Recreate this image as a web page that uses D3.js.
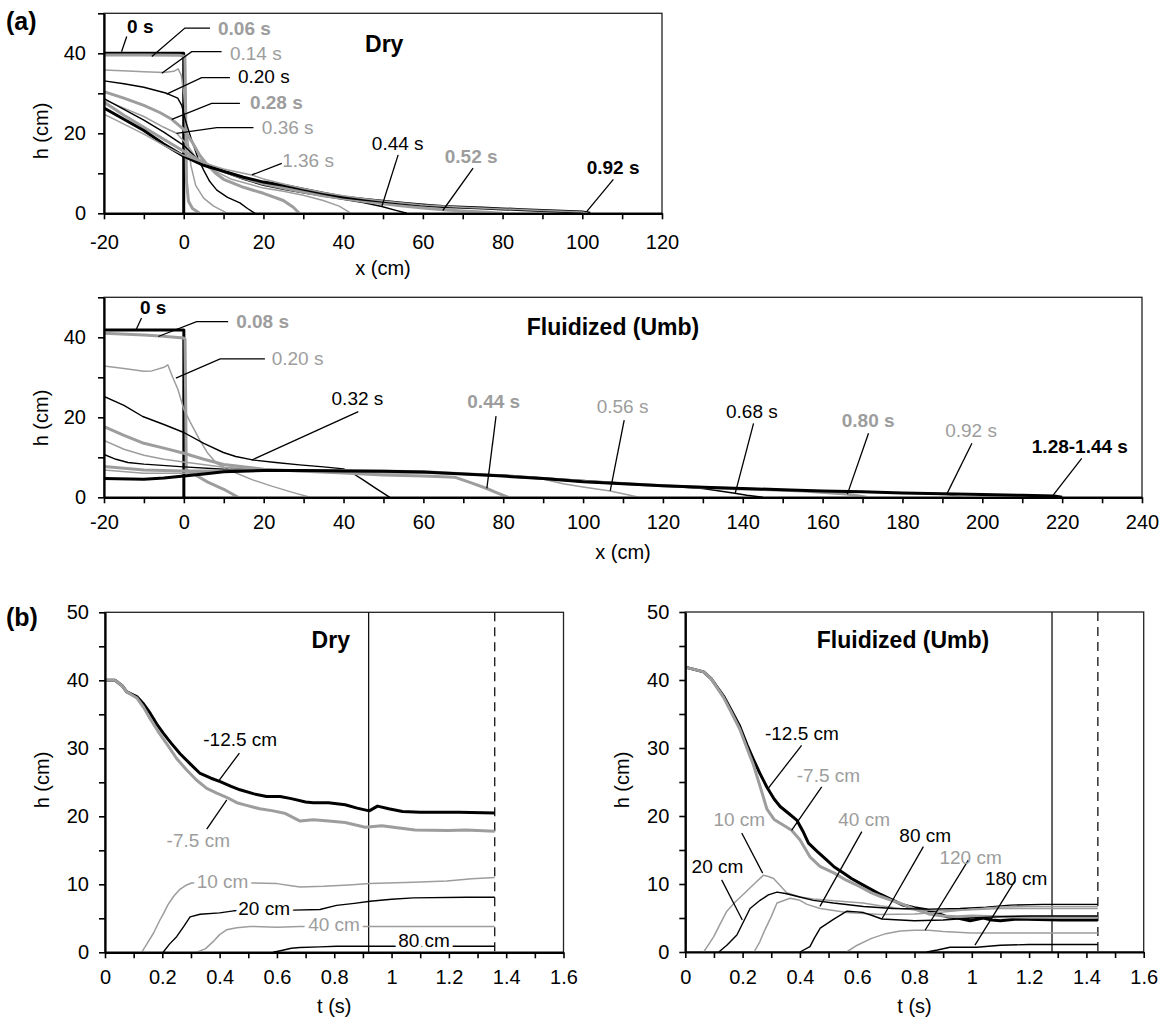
<!DOCTYPE html>
<html>
<head>
<meta charset="utf-8">
<script src="https://cdn.jsdelivr.net/npm/d3@7"></script>
<style>
  body { margin: 0; background: #fff; }
  svg { font-family: "Liberation Sans", Arial, sans-serif; }
</style>
</head>
<body>
<svg id="fig" width="1165" height="1020"></svg>
<script>
// ---------- data ----------
// (a) dry: h(x) profiles, x in cm, h in cm
const dryTimes = ["0 s","0.06 s","0.14 s","0.20 s","0.28 s","0.36 s","0.44 s","0.52 s","0.92 s","1.36 s"];
const dryProfiles = [
  [[-20,40],[0,40],[0,0]],
  [[-20,39.6],[-10,39.6],[-1,39.5],[0.3,39.2],[0.5,25],[0.7,8],[1.2,3],[2.2,1.2],[4,0]],
  [[-20,35.8],[-14,35.6],[-10,35.4],[-5,35.2],[-2.5,35.5],[-1.4,36.1],[-0.6,34.5],[0,30],[0.8,20],[1.8,12],[3,7],[5,3.8],[7.5,1.8],[11,0]],
  [[-20,33.1],[-15,32.4],[-10,31.5],[-4.3,30],[-1.5,28.8],[-0.5,27],[0.5,23],[2,18.3],[3.5,14],[5,10.8],[6.5,8],[8.3,5.8],[11,4],[14.1,2.6],[16,1.2],[17.9,0]],
  [[-20,30.4],[-15,28.8],[-10,27],[-6,25.2],[-3,23.5],[0,21],[2,18],[4,14.5],[6,12],[8,10],[10,8.5],[15,6.5],[20,5],[25,3.2],[27.5,1.5],[29,0]],
  [[-20,28.4],[-15,26.3],[-10,24.2],[-5,21.5],[-1.8,20],[1,17],[3,14],[6,11.5],[9,10],[12,8.5],[20,6.3],[25,5.5],[30,4.5],[35,3.2],[39,1.8],[42,0]],
  [[-20,28.7],[-15,26],[-10,23.3],[-5,20.3],[0,17],[3,14],[6,12],[10,10.3],[15,8.5],[20,7],[25,6],[30,5.1],[35,4.3],[40,3.5],[45,2.7],[49.7,1.7],[53,0.8],[56,0]],
  [[-20,27.8],[-15,24.5],[-10,21.5],[-5,18.5],[0,15.5],[5,12.6],[10,10.5],[15,8.8],[20,7.4],[25,6.3],[30,5.3],[35,4.4],[40,3.7],[45,3],[50,2.4],[55,1.8],[60,1.3],[65,0.9],[70,0.6],[75,0.3],[80,0]],
  [[-20,26.3],[-15,23.5],[-10,20.7],[-5,17.3],[0,14.3],[5,12],[10,10.5],[15,9],[20,7.8],[25,7],[30,6],[35,5],[40,4.1],[45,3.5],[50,3],[55,2.5],[60,2.1],[65,1.7],[70,1.5],[75,1.3],[80,1.1],[85,0.9],[90,0.7],[95,0.5],[100,0.3],[102,0]],
  [[-20,24.8],[-15,22.3],[-10,19.8],[-5,17],[0,14.5],[5,12.6],[10,11.1],[17,9.6],[20,8.6],[25,7.3],[30,6.2],[35,5.2],[40,4.4],[45,3.7],[50,3.1],[55,2.6],[60,2.1],[70,1.5],[80,1.1],[90,0.7],[100,0.3],[101.5,0]]
];

// (a) fluidized: h(x) profiles
const fluidTimes = ["0 s","0.08 s","0.20 s","0.32 s","0.44 s","0.56 s","0.68 s","0.80 s","0.92 s","1.28-1.44 s"];
const fluidProfiles = [
  [[-20,41.8],[0,41.8],[0,0]],
  [[-20,41],[-10,40.6],[-6,40.3],[0,39.8],[0.3,39.5],[0.5,20],[0.6,6.8],[3,5.5],[6,3.8],[10,2],[13.6,0]],
  [[-20,32.8],[-15,32.2],[-10,31.5],[-8,31.6],[-5,32.5],[-4,33.1],[-2.8,30],[-1.5,27],[0,22],[1.5,19],[4,14.3],[6,11],[8.2,8.5],[12,6.5],[17.4,4.3],[22,2.8],[27,1.3],[31.6,0]],
  [[-20,25.2],[-15,23],[-10.3,20.2],[-5,18.2],[0,16.2],[5,13.5],[9.9,11.2],[13,10.2],[17.5,9.3],[23,8.7],[29,8.1],[35,7.6],[40,7.1],[42,6.2],[45,4.3],[48,2.3],[51.6,0]],
  [[-20,17.7],[-15,15.5],[-10,13.5],[-5,12.3],[0,11],[5,9.5],[10,8.2],[20,7],[30,6.5],[40,6.1],[50,5.6],[60,5.3],[68,5],[72,3.6],[75.9,2.2],[78,1.3],[81.3,0]],
  [[-20,14.2],[-15,12],[-10,10.5],[-5,9.5],[0,8.8],[10,7.5],[20,6.8],[30,6.4],[40,6.2],[60,6],[80,5.6],[88,5],[95,3.4],[100,2.6],[106.8,1.6],[110,0.9],[114,0]],
  [[-20,10.7],[-17,9.5],[-14,8.7],[-10,8.3],[0,7.6],[10,7],[20,6.8],[40,6.6],[60,6.3],[80,5.5],[100,4.2],[120,2.9],[130,2.2],[138,1],[141,0.5],[145,0]],
  [[-20,7.7],[-10,6.8],[0,6.6],[10,6.6],[20,6.7],[40,6.7],[60,6.4],[80,5.4],[100,4],[120,2.9],[140,2.1],[155,1.6],[166,0.8],[171,0]],
  [[-20,6.8],[-10,6],[0,6],[10,6.4],[20,6.6],[40,6.6],[60,6.3],[80,5.3],[100,3.9],[120,2.8],[140,2.1],[160,1.5],[180,1.1],[191,0.7],[195,0]],
  [[-20,4.7],[-10,4.5],[-5,4.8],[0,5.3],[5,5.8],[10,6.4],[20,6.7],[30,6.7],[40,6.6],[50,6.5],[60,6.3],[70,5.8],[80,5.3],[90,4.7],[100,3.9],[110,3.4],[120,2.9],[130,2.5],[140,2.2],[150,1.9],[160,1.6],[170,1.4],[180,1.1],[190,0.9],[200,0.7],[210,0.5],[218,0.3],[220,0]]
];

// (b) dry: h(t) at gauges, t in s
const dryGauges = ["-12.5 cm","-7.5 cm","10 cm","20 cm","40 cm","80 cm"];
const dryGaugeSeries = [
  [[0,40],[0.035,40],[0.06,39.2],[0.076,38.3],[0.111,37.6],[0.135,36.5],[0.157,35.2],[0.18,33.6],[0.204,32.2],[0.23,30.8],[0.262,29.2],[0.3,27.6],[0.332,26.3],[0.37,25.6],[0.402,25.1],[0.44,24.4],[0.471,23.9],[0.52,23.3],[0.564,22.9],[0.611,22.9],[0.65,22.6],[0.7,22.1],[0.727,22],[0.78,22],[0.838,21.7],[0.88,21.2],[0.922,20.8],[0.951,21.5],[0.99,21.1],[1.038,20.7],[1.1,20.6],[1.236,20.6],[1.36,20.5]],
  [[0,40],[0.035,40],[0.06,39.2],[0.076,38.3],[0.111,37.4],[0.135,36],[0.157,34.4],[0.185,32.5],[0.215,30.7],[0.25,28.5],[0.285,26.8],[0.32,25.3],[0.355,24.1],[0.39,23.4],[0.424,22.8],[0.46,22],[0.494,21.6],[0.54,21.1],[0.587,20.8],[0.63,20.4],[0.681,19.3],[0.727,19.5],[0.78,19.3],[0.838,19.1],[0.908,18.4],[0.966,18.6],[1.02,18.3],[1.082,18],[1.198,17.9],[1.26,18],[1.36,17.8]],
  [[0.128,0],[0.15,1.5],[0.169,2.8],[0.19,4.6],[0.204,5.7],[0.22,7],[0.239,8.2],[0.26,9.2],[0.285,9.9],[0.302,10.2],[0.4,10.2],[0.506,10.2],[0.6,10.1],[0.65,9.8],[0.681,9.6],[0.762,9.7],[0.85,9.9],[0.925,10.1],[1.076,10.3],[1.193,10.5],[1.28,10.8],[1.36,11]],
  [[0.203,0],[0.225,1.2],[0.25,2.3],[0.275,3.8],[0.297,5.2],[0.332,5.6],[0.4,5.8],[0.449,6.1],[0.55,6.2],[0.657,6.2],[0.75,6.3],[0.808,6.9],[0.87,7.2],[0.925,7.5],[1,7.8],[1.076,8],[1.262,8.1],[1.36,8.1]],
  [[0.319,0],[0.35,0.5],[0.378,1.6],[0.4,2.6],[0.424,3.3],[0.46,3.6],[0.506,3.8],[0.6,3.7],[0.68,3.8],[0.908,3.8],[1.36,3.8]],
  [[0.587,0],[0.62,0.3],[0.65,0.6],[0.68,0.7],[0.75,0.8],[0.808,0.9],[1,0.9],[1.36,0.9]]
];

// (b) fluidized: h(t) at gauges
const fluidGauges = ["-12.5 cm","-7.5 cm","10 cm","20 cm","40 cm","80 cm","120 cm","180 cm"];
const fluidGaugeSeries = [
  [[0,41.9],[0.064,41.2],[0.09,40.2],[0.134,37.6],[0.16,35.6],[0.19,33.2],[0.215,30.5],[0.238,28.3],[0.26,26.3],[0.284,24.3],[0.31,22.5],[0.331,21.4],[0.36,20.4],[0.389,19.4],[0.41,17.8],[0.43,16],[0.46,14.8],[0.494,13.5],[0.52,12.5],[0.552,11.6],[0.58,10.8],[0.61,10.1],[0.64,9.4],[0.68,8.5],[0.72,7.7],[0.76,6.9],[0.8,6.5],[0.842,6.2],[0.88,5.7],[0.912,5.2],[0.95,5],[0.994,4.6],[1.04,5],[1.07,4.7],[1.1,4.6],[1.15,4.8],[1.193,4.8],[1.309,4.7],[1.44,4.7]],
  [[0,41.9],[0.064,41.2],[0.09,40.2],[0.134,37.4],[0.16,35.3],[0.19,32.8],[0.215,30],[0.238,27.5],[0.26,24.5],[0.285,21],[0.31,19.5],[0.34,18.7],[0.371,17.9],[0.4,16.5],[0.435,14],[0.47,12.6],[0.52,11.6],[0.56,10.6],[0.61,9.6],[0.65,8.7],[0.68,8.2],[0.72,7.6],[0.76,7],[0.8,6.3],[0.85,5.6],[0.9,5.3],[0.95,5.2],[1,5.3],[1.1,5.2],[1.2,5.1],[1.44,5.1]],
  [[0.064,0],[0.08,1],[0.1,2.3],[0.12,4],[0.145,6],[0.175,7.4],[0.203,8.5],[0.24,10],[0.273,11.3],[0.29,11.1],[0.308,10.8],[0.33,9.8],[0.354,8.7],[0.4,8.1],[0.447,7.8],[0.5,7.6],[0.563,7.4],[0.62,7.2],[0.68,6.8],[0.75,6.4],[0.8,6.2],[0.9,6.1],[1,6.2],[1.1,6.4],[1.2,6.4],[1.44,6.4]],
  [[0.117,0],[0.145,1],[0.18,2.5],[0.2,4.2],[0.226,6.4],[0.261,7.6],[0.29,8.4],[0.32,8.8],[0.35,8.6],[0.389,8.2],[0.447,7.6],[0.517,7.2],[0.622,6.7],[0.726,6.4],[0.85,6.3],[0.959,6.4],[1.05,6.6],[1.134,6.9],[1.25,7],[1.44,7]],
  [[0.24,0],[0.26,1.5],[0.275,3],[0.3,5.2],[0.32,7.2],[0.366,7.9],[0.4,7.6],[0.425,7],[0.471,6.4],[0.564,5.8],[0.68,5.5],[0.8,5.6],[0.9,5.9],[1,6.3],[1.1,6.6],[1.2,6.7],[1.44,6.7]],
  [[0.4,0],[0.435,0.8],[0.45,2],[0.471,3.5],[0.517,4.8],[0.564,6],[0.6,5.9],[0.622,5.8],[0.65,5.4],[0.686,4.85],[0.75,4.7],[0.8,4.6],[0.9,4.7],[1,5],[1.1,5.2],[1.2,5.3],[1.44,5.3]],
  [[0.563,0],[0.6,1],[0.65,2],[0.7,2.7],[0.75,3.1],[0.8,3.2],[0.85,3.2],[0.9,3],[1,2.8],[1.2,2.8],[1.44,2.8]],
  [[0.843,0],[0.88,0.3],[0.924,0.7],[1.017,0.7],[1.1,1],[1.2,1.1],[1.44,1.1]]
];

// marker lines in (b): solid = end of flow, dashed = end of record
const dryMarkers = [0.92, 1.36];
const fluidMarkers = [1.28, 1.44];

// ticks
const xTicksDry = [-20,-10,0,10,20,30,40,50,60,70,80,90,100,110,120];
const xTicksFluid = [-20,-10,0,10,20,30,40,50,60,70,80,90,100,110,120,130,140,150,160,170,180,190,200,210,220,230,240];
const hTicksA = [0,10,20,30,40,50];
const hTicksB = [0,5,10,15,20,25,30,35,40,45,50];
const tTicks = [0,0.1,0.2,0.3,0.4,0.5,0.6,0.7,0.8,0.9,1,1.1,1.2,1.3,1.4,1.5,1.6];

// ---------- styles & annotation placement (data units) ----------
const BLACK = "#000", GRAY = "#9d9d9d";
const K3 = {c: BLACK, w: 3}, G3 = {c: GRAY, w: 3}, K1 = {c: BLACK, w: 1.4}, G1 = {c: GRAY, w: 1.5};

const dryStyles = [K3, G3, G1, K1, G3, G1, K1, G3, K3, G1];
const dryLabels = [
  {at: [-14.2,45.1], lead: [[-14.3,44.2],[-15.6,40.4]]},
  {at: [8.6,44.6], lead: [[6.6,46.3],[0.3,46.3],[-8,39.2]]},
  {at: [11.6,38.3], lead: [[9.5,40.4],[2,40.4],[-5.5,35]]},
  {at: [13.6,32.6], lead: [[11.6,33.9],[4.5,33.9],[-4.3,29.8]]},
  {at: [16.6,26.1], lead: [[14.1,27.5],[7,27.5],[-3,23.5]]},
  {at: [19.6,19.8], lead: [[17.5,21.4],[8.3,21.4],[-1.8,20]]},
  {at: [47.2,15.8], lead: [[53.8,14.6],[49.7,1.7]]},
  {at: [65.5,12.6], lead: [[72.6,11.3],[65,0.7]]},
  {at: [101.1,9.8], lead: [[107.8,8.5],[101.1,0.4]]},
  {at: [24.7,11.6], lead: [[24.6,12.5],[17.1,9.6]]}
];

const fluidStyles = [K3, G3, G1, K1, G3, G1, K1, G3, G1, K3];
const fluidLabels = [
  {at: [-11,45.8], lead: [[-10.6,44.8],[-12,41.8]]},
  {at: [13.1,42.3], lead: [[11.1,43.9],[3.2,43.9],[-6.4,40.2]]},
  {at: [22,33.1], lead: [[20.3,34.6],[9.1,34.6],[-2,29.8]]},
  {at: [37,23.1], lead: [[43.7,21.4],[17,9.3]]},
  {at: [71,22.3], lead: [[78.2,20.3],[75.9,2.25]]},
  {at: [103.4,21], lead: [[110.3,19.3],[106.8,1.6]]},
  {at: [135.8,19.8], lead: [[142.7,18.5],[138.1,1]]},
  {at: [164.8,17.5], lead: [[171.5,16],[166.2,0.8]]},
  {at: [190.7,15], lead: [[197.4,13.5],[191.1,0.8]]},
  {at: [212.4,11.2], lead: [[224.9,9.75],[217.8,0.6]]}
];

const dryGaugeStyles = [K3, G3, G1, K1, G1, K1];
const dryGaugeLabels = [
  {at: [0.343,30.3], lead: [[0.469,29.3],[0.395,25.1]]},
  {at: [0.215,15.5], lead: [[0.355,18.1],[0.425,22.4]]},
  {at: [0.32,9.4], halo: true},
  {at: [0.465,5.5], halo: true},
  {at: [0.709,3.2], halo: true},
  {at: [1.023,0.8], halo: true}
];

const fluidGaugeStyles = [K3, G3, G1, K1, G1, K1, G1, K1];
const fluidGaugeLabels = [
  {at: [0.278,31.2], lead: [[0.406,30.4],[0.29,24.1]]},
  {at: [0.389,25], lead: [[0.476,24.3],[0.371,17.9]]},
  {at: [0.098,18.5], lead: [[0.197,17.5],[0.27,11.6]]},
  {at: [0.022,11.6], lead: [[0.127,10.6],[0.199,4.7]]},
  {at: [0.534,18.5], lead: [[0.616,17.7],[0.47,6.7]]},
  {at: [0.747,16.2], lead: [[0.831,15.5],[0.686,4.85]]},
  {at: [0.887,13], lead: [[0.988,13.5],[0.837,3.2]]},
  {at: [1.046,9.9], lead: [[1.151,10.5],[1.011,1]]}
];

const boldTimes = ["0 s","0.06 s","0.28 s","0.52 s","0.92 s"];
const boldTimesFluid = ["0 s","0.08 s","0.44 s","0.80 s","1.28-1.44 s"];

// ---------- drawing ----------
const FONT = '"Liberation Sans", Arial, sans-serif';
const svg = d3.select("#fig");

function drawPanel(cfg) {
  const x = d3.scaleLinear().domain(cfg.xDomain).range([cfg.left, cfg.right]);
  const y = d3.scaleLinear().domain([0, 50]).range([cfg.bottom, cfg.top]);
  const g = svg.append("g");

  svg.append("clipPath").attr("id", "clip-" + cfg.id)
    .append("rect")
    .attr("x", cfg.left).attr("y", cfg.top - 2)
    .attr("width", cfg.right - cfg.left).attr("height", cfg.bottom - cfg.top + 3);

  // frame
  g.append("rect")
    .attr("x", cfg.left).attr("y", cfg.top)
    .attr("width", cfg.right - cfg.left).attr("height", cfg.bottom - cfg.top)
    .attr("fill", "none").attr("stroke", "#222").attr("stroke-width", 1.3);

  // vertical markers
  (cfg.markers || []).forEach((m, i) => {
    g.append("line")
      .attr("x1", x(m)).attr("x2", x(m)).attr("y1", cfg.top).attr("y2", cfg.bottom)
      .attr("stroke", "#111").attr("stroke-width", 1.3)
      .attr("stroke-dasharray", i === 1 ? "9,6" : null);
  });

  // curves
  const line = d3.line().x(d => x(d[0])).y(d => y(d[1]));
  const curves = g.append("g").attr("clip-path", `url(#clip-${cfg.id})`);
  cfg.series.forEach((s, i) => {
    curves.append("path")
      .attr("d", line(s))
      .attr("fill", "none")
      .attr("stroke", cfg.styles[i].c)
      .attr("stroke-width", cfg.styles[i].w)
      .attr("stroke-linejoin", "round");
  });

  // axes
  const xa = g.append("g")
    .attr("transform", `translate(0,${cfg.bottom})`)
    .call(d3.axisBottom(x).tickValues(cfg.xTicks).tickFormat(cfg.xFmt)
      .tickSize(6).tickSizeOuter(0).tickPadding(cfg.xPad));
  const ya = g.append("g")
    .attr("transform", `translate(${cfg.left},0)`)
    .call(d3.axisLeft(y).tickValues(cfg.yTicks).tickFormat(cfg.yFmt)
      .tickSize(6).tickSizeOuter(0).tickPadding(cfg.yPad));
  [xa, ya].forEach(a => {
    a.attr("font-size", 20).attr("font-family", FONT);
    a.select(".domain").attr("stroke", "#000").attr("stroke-width", 2.2);
    a.selectAll(".tick line").attr("stroke", "#000").attr("stroke-width", 1.6);
    a.selectAll(".tick text").attr("fill", "#000");
  });

  // annotation labels
  cfg.labels.forEach((l, i) => {
    const col = cfg.styles[i].c;
    if (l.lead) {
      g.append("path")
        .attr("d", d3.line()(l.lead.map(p => [x(p[0]), y(p[1])])))
        .attr("fill", "none").attr("stroke", "#000").attr("stroke-width", 1.3);
    }
    const t = g.append("text")
      .attr("x", x(l.at[0])).attr("y", y(l.at[1]))
      .attr("font-size", 19)
      .attr("font-weight", cfg.bold.includes(cfg.names[i]) ? "bold" : "normal")
      .attr("fill", col)
      .text(cfg.names[i]);
    if (l.halo) {
      t.attr("stroke", "#fff").attr("stroke-width", 8).attr("paint-order", "stroke");
    }
  });

  // panel title
  g.append("text")
    .attr("x", x(cfg.title.at[0])).attr("y", y(cfg.title.at[1]))
    .attr("font-size", 23).attr("font-weight", "bold")
    .text(cfg.title.text);

  // axis titles
  g.append("text")
    .attr("x", (cfg.left + cfg.right) / 2).attr("y", cfg.xTitleY)
    .attr("text-anchor", "middle").attr("font-size", 20)
    .text(cfg.xTitle);
  g.append("text")
    .attr("transform", `translate(${cfg.left - 56},${cfg.yTitleY}) rotate(-90)`)
    .attr("text-anchor", "middle").attr("font-size", 20)
    .text("h (cm)");
}

const fmtA = d => (d % 20 === 0 ? d : "");
const fmtHA = d => (d % 20 === 0 ? d : "");
const fmtHB = d => (d % 10 === 0 ? d : "");
const fmtT = d => (Math.round(d * 10) % 2 === 0 ? String(+d.toFixed(1)) : "");

drawPanel({
  id: "a1", left: 104, right: 662, top: 13.3, bottom: 213.3,
  xDomain: [-20, 120], xTicks: xTicksDry, xFmt: fmtA, xPad: 16,
  yTicks: hTicksA, yFmt: fmtHA, yPad: 12,
  series: dryProfiles, styles: dryStyles, names: dryTimes, bold: boldTimes, labels: dryLabels,
  title: {text: "Dry", at: [45.5, 40.3]},
  xTitle: "x (cm)", xTitleY: 275, yTitleY: 131
});

drawPanel({
  id: "a2", left: 104, right: 1142, top: 297.3, bottom: 497.3,
  xDomain: [-20, 240], xTicks: xTicksFluid, xFmt: fmtA, xPad: 12,
  yTicks: hTicksA, yFmt: fmtHA, yPad: 12,
  series: fluidProfiles, styles: fluidStyles, names: fluidTimes, bold: boldTimesFluid, labels: fluidLabels,
  title: {text: "Fluidized (Umb)", at: [85.9, 40.6]},
  xTitle: "x (cm)", xTitleY: 559, yTitleY: 418
});

drawPanel({
  id: "b1", left: 105, right: 563.5, top: 612.3, bottom: 952.3,
  xDomain: [0, 1.6], xTicks: tTicks, xFmt: fmtT, xPad: 12,
  yTicks: hTicksB, yFmt: fmtHB, yPad: 10,
  series: dryGaugeSeries, styles: dryGaugeStyles, names: dryGauges, bold: [], labels: dryGaugeLabels,
  markers: dryMarkers,
  title: {text: "Dry", at: [0.721, 44.7]},
  xTitle: "t (s)", xTitleY: 1013, yTitleY: 780
});

drawPanel({
  id: "b2", left: 685.3, right: 1143.7, top: 612, bottom: 952,
  xDomain: [0, 1.6], xTicks: tTicks, xFmt: fmtT, xPad: 12,
  yTicks: hTicksB, yFmt: fmtHB, yPad: 10,
  series: fluidGaugeSeries, styles: fluidGaugeStyles, names: fluidGauges, bold: [], labels: fluidGaugeLabels,
  markers: fluidMarkers,
  title: {text: "Fluidized (Umb)", at: [0.459, 44.7]},
  xTitle: "t (s)", xTitleY: 1013, yTitleY: 780
});

// panel letters
svg.append("text").attr("x", 6).attr("y", 30)
  .attr("font-size", 25).attr("font-weight", "bold").text("(a)");
svg.append("text").attr("x", 6).attr("y", 626)
  .attr("font-size", 25).attr("font-weight", "bold").text("(b)");
</script>
</body>
</html>
